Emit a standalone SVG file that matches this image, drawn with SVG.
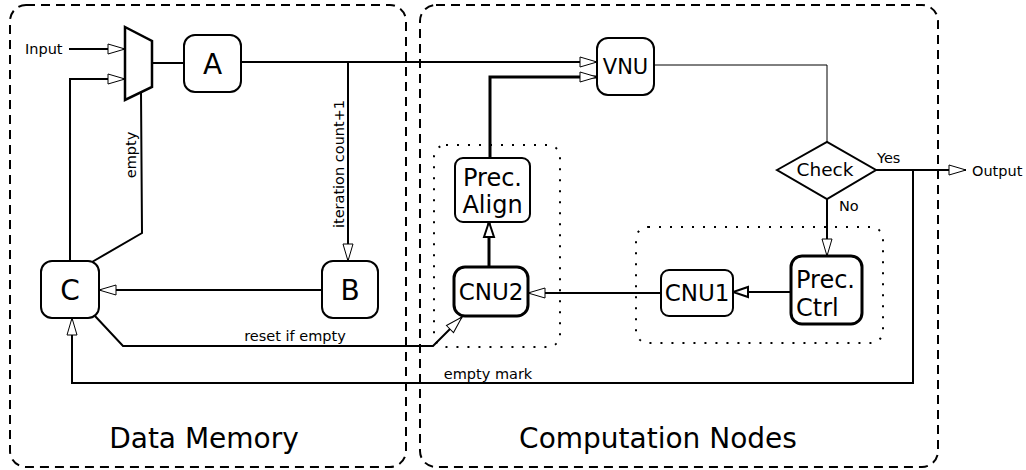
<svg xmlns="http://www.w3.org/2000/svg" width="1026" height="470" viewBox="0 0 1026 470">
<defs>
<marker id="ah" markerWidth="20" markerHeight="12" refX="18" refY="6" orient="auto" markerUnits="userSpaceOnUse">
<path d="M1,1 L18,6 L1,11 Z" fill="#fff" stroke="#000" stroke-width="1"/>
</marker>
<marker id="ahb" markerWidth="20" markerHeight="14" refX="17" refY="7" orient="auto" markerUnits="userSpaceOnUse">
<path d="M2,2 L17,7 L2,12 Z" fill="#fff" stroke="#000" stroke-width="2"/>
</marker>
</defs>
<style>
text{font-family:"DejaVu Sans",sans-serif;fill:#000}
.box{fill:#fff;stroke:#000;stroke-width:2}
.tbox{fill:#fff;stroke:#000;stroke-width:3}
.dash{fill:none;stroke:#000;stroke-width:2;stroke-dasharray:9 6}
.dot{fill:none;stroke:#000;stroke-width:2;stroke-dasharray:2 9}
.ln{fill:none;stroke:#000;stroke-width:2}
.small{font-size:14.5px}
.big{font-size:28px;text-anchor:middle}
.mid{font-size:23px;text-anchor:middle}
</style>
<rect width="1026" height="470" fill="#fff"/>
<g id="regions">
<rect class="dash" x="10" y="5" width="396" height="462" rx="16"/>
<rect class="dash" x="420" y="5" width="518" height="462" rx="16"/>
<rect class="dot" x="434" y="145" width="126" height="202" rx="12"/>
<rect class="dot" x="636" y="227" width="247" height="116" rx="12"/>
<text x="204" y="448" font-size="28" text-anchor="middle">Data Memory</text>
<text x="658" y="448" font-size="28" text-anchor="middle">Computation Nodes</text>
</g>
<g id="connectors">
<line class="ln" x1="69" y1="49" x2="125" y2="49" marker-end="url(#ah)"/>
<polyline class="ln" points="70,261 70,79 125,79" marker-end="url(#ah)"/>
<line class="ln" x1="152" y1="63" x2="184" y2="63"/>
<line class="ln" x1="241" y1="62" x2="597" y2="62" marker-end="url(#ah)"/>
<line class="ln" x1="348" y1="62" x2="348" y2="261" marker-end="url(#ah)"/>
<polyline class="ln" points="141,92 142,233 92,262"/>
<line class="ln" x1="322" y1="290" x2="99" y2="290" marker-end="url(#ah)"/>
<polyline class="ln" points="95,316 123,346 433,346 462,317" marker-end="url(#ah)"/>
<polyline class="ln" points="913,170 913,383 72,383 72,318" marker-end="url(#ah)"/>
<polyline fill="none" stroke="#000" stroke-width="3" points="490,158 490,77 597,77" marker-end="url(#ah)"/>
<polyline fill="none" stroke="#000" stroke-width="1" points="654,65 827,65 827,142"/>
<line class="ln" x1="876" y1="170" x2="966" y2="170" marker-end="url(#ah)"/>
<line class="ln" x1="827" y1="199" x2="827" y2="256" marker-end="url(#ah)"/>
<line class="ln" x1="791" y1="292" x2="733" y2="292" marker-end="url(#ahb)"/>
<line class="ln" x1="661" y1="293" x2="528" y2="293" marker-end="url(#ah)"/>
<line fill="none" stroke="#000" stroke-width="3" x1="489" y1="267" x2="489" y2="222" marker-end="url(#ahb)"/>
<text class="small" x="25" y="54">Input</text>
<text class="small" transform="translate(136,155) rotate(-90)" text-anchor="middle">empty</text>
<text class="small" transform="translate(344,164) rotate(-90)" text-anchor="middle">iteration count+1</text>
<text class="small" x="295" y="341" text-anchor="middle">reset if empty</text>
<text class="small" x="488" y="379" text-anchor="middle">empty mark</text>
<text class="small" x="877" y="163">Yes</text>
<text class="small" x="839" y="211">No</text>
<text class="small" x="972" y="176">Output</text>
</g>
<g id="mux"><polygon points="125,27 152,41 152,87 125,100" fill="#fff" stroke="#000" stroke-width="2.5"/></g>
<g id="A"><rect class="box" x="184" y="35" width="57" height="57" rx="11"/><text class="big" x="212.5" y="74">A</text></g>
<g id="B"><rect class="box" x="322" y="261" width="56" height="57" rx="11"/><text class="big" x="350" y="300">B</text></g>
<g id="C"><rect class="box" x="41" y="261" width="58" height="57" rx="11"/><text class="big" x="70" y="300">C</text></g>
<g id="VNU"><rect class="box" x="597" y="38" width="57" height="57" rx="11"/><text x="625.5" y="74" font-size="21" text-anchor="middle">VNU</text></g>
<g id="Check"><polygon points="777,170 827,142 876,170 827,199" fill="#fff" stroke="#000" stroke-width="2"/><text x="825" y="176" font-size="18.5" text-anchor="middle">Check</text></g>
<g id="PrecCtrl"><rect class="tbox" x="791" y="256" width="71" height="68" rx="11"/><text x="796" y="288" font-size="24">Prec.</text><text x="796" y="316" font-size="24">Ctrl</text></g>
<g id="CNU1"><rect class="box" x="661" y="270" width="72" height="46" rx="8"/><text class="mid" x="697" y="301">CNU1</text></g>
<g id="PrecAlign"><rect class="box" x="455" y="158" width="75" height="64" rx="8"/><text x="492.5" y="186" font-size="24" text-anchor="middle">Prec.</text><text x="492.5" y="213" font-size="24" text-anchor="middle">Align</text></g>
<g id="CNU2"><rect class="tbox" x="454" y="267" width="74" height="49" rx="11"/><text class="mid" x="491" y="300">CNU2</text></g>
</svg>
